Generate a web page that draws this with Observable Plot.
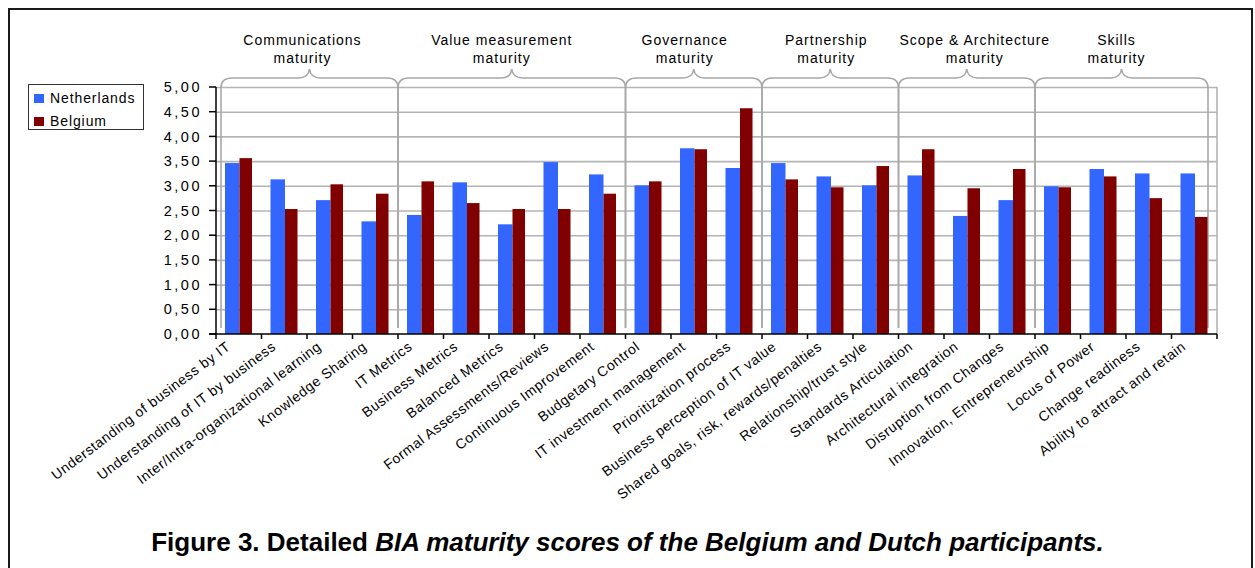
<!DOCTYPE html>
<html>
<head>
<meta charset="utf-8">
<script src="https://cdn.jsdelivr.net/npm/d3@7"></script>
<script src="https://cdn.jsdelivr.net/npm/@observablehq/plot@0.6"></script>
<style>
html, body { margin: 0; padding: 0; width: 1255px; height: 568px; overflow: hidden; background: #fff; }
body { position: relative; font-family: "Liberation Sans", Arial, sans-serif; }
#border { position: absolute; left: 8px; top: 8px; width: 1245px; height: 600px; border: 2px solid #1a1a1a; box-sizing: border-box; }
#chart { position: absolute; left: 0; top: 0; }
#legend { position: absolute; left: 28px; top: 84px; width: 116px; height: 46px; border: 1.5px solid #333; box-sizing: border-box; background: #fff; font-size: 14px; letter-spacing: 0.9px; color: #000; }
#legend .item { position: absolute; left: 5px; height: 16px; line-height: 16px; white-space: nowrap; }
#legend .sw { display: inline-block; width: 10px; height: 9px; margin-right: 6px; vertical-align: 0px; }
#caption { position: absolute; left: 0; top: 527px; width: 1255px; text-align: center; font-weight: bold; font-size: 26px; line-height: 30px; color: #000; white-space: nowrap; }
</style>
</head>
<body>
<div id="border"></div>
<div id="chart"></div>
<div id="legend"></div>
<div id="caption"></div>
<script>
// ---- data ----
const categories = [
  "Understanding of business by IT", "Understanding of IT by business",
  "Inter/Intra-organizational learning", "Knowledge Sharing",
  "IT Metrics", "Business Metrics", "Balanced Metrics",
  "Formal Assessments/Reviews", "Continuous Improvement",
  "Budgetary Control", "IT investment management", "Prioritization process",
  "Business perception of IT value", "Shared goals, risk, rewards/penalties",
  "Relationship/trust style",
  "Standards Articulation", "Architectural integration", "Disruption from Changes",
  "Innovation, Entrepreneurship", "Locus of Power", "Change readiness",
  "Ability to attract and retain"
];
const netherlands = [3.46, 3.13, 2.71, 2.28, 2.41, 3.07, 2.22, 3.48, 3.23, 3.01, 3.76, 3.36,
                     3.46, 3.19, 3.01, 3.21, 2.39, 2.71, 2.99, 3.34, 3.25, 3.25];
const belgium     = [3.56, 2.53, 3.03, 2.84, 3.09, 2.65, 2.53, 2.53, 2.84, 3.09, 3.74, 4.57,
                     3.13, 2.97, 3.40, 3.74, 2.95, 3.34, 2.97, 3.19, 2.75, 2.37];
const seriesNames = ["Netherlands", "Belgium"];
const groupLabels = [
  ["Communications", "maturity"], ["Value measurement", "maturity"],
  ["Governance", "maturity"], ["Partnership", "maturity"],
  ["Scope & Architecture", "maturity"], ["Skills", "maturity"]
];
const groupSizes = [4, 5, 3, 3, 3, 4];
const yTicks = [0, 0.5, 1, 1.5, 2, 2.5, 3, 3.5, 4, 4.5, 5];
const captionPlain = "Figure 3. Detailed ";
const captionItalic = "BIA maturity scores of the Belgium and Dutch participants.";

// ---- styling ----
const colors = {Netherlands: "#3366ff", Belgium: "#800000"};
const gridColor = "#b4b4b4";
const titleNudge = [-7, -10, -9, -4, 8, -5];

const rows = categories.map((c, i) => ({category: c, netherlands: netherlands[i], belgium: belgium[i]}));

const W = 1255, H = 500, PLOT_BOTTOM = 334, PLOT_RIGHT = 1217;

function bandInfo(scales, dims) {
  const x = scales.x;
  const L = dims.marginLeft, R = dims.width - dims.marginRight;
  const T = dims.marginTop, B = dims.height - dims.marginBottom;
  const bw = x.bandwidth ? x.bandwidth() : (R - L) / categories.length;
  return {x, bw, L, R, T, B};
}

function backgroundDecor(index, scales, values, dims) {
  const {x, bw, L, R, T, B} = bandInfo(scales, dims);
  const g = d3.create("svg:g").attr("fill", "none");
  g.append("line").attr("x1", R).attr("x2", R).attr("y1", T).attr("y2", B)
    .attr("stroke", gridColor).attr("stroke-width", 1.6);
  let start = 0;
  groupSizes.forEach((n, gi) => {
    let xa = x(categories[start]);
    let xb = x(categories[start + n - 1]) + bw;
    if (gi === 0) xa += 5;
    if (gi === groupSizes.length - 1) xb -= 9;
    start += n;
    const xm = (xa + xb) / 2;
    const yH = T - 9, yTip = T - 18;
    const p = d3.path();
    p.moveTo(xa, B - 6);
    p.lineTo(xa, T + 1);
    p.quadraticCurveTo(xa, yH, xa + 11, yH);
    p.lineTo(xm - 11, yH);
    p.quadraticCurveTo(xm - 1, yH, xm, yTip);
    p.quadraticCurveTo(xm + 1, yH, xm + 11, yH);
    p.lineTo(xb - 11, yH);
    p.quadraticCurveTo(xb, yH, xb, T + 1);
    p.lineTo(xb, B - 6);
    g.append("path").attr("d", p.toString()).attr("stroke", "#a8a8a8").attr("stroke-width", 1.6);
    const t = g.append("text").attr("fill", "#000").attr("stroke", "none")
      .attr("font-size", 14).attr("letter-spacing", 1).attr("text-anchor", "middle");
    t.append("tspan").attr("x", xm + titleNudge[gi]).attr("y", T - 42).text(groupLabels[gi][0]);
    t.append("tspan").attr("x", xm + titleNudge[gi]).attr("y", T - 24.5).text(groupLabels[gi][1]);
  });
  return g.node();
}

function axesDecor(index, scales, values, dims) {
  const {x, bw, L, R, T, B} = bandInfo(scales, dims);
  const y = scales.y;
  const g = d3.create("svg:g").attr("stroke", "#000").attr("stroke-width", 1.5).attr("fill", "none");
  g.append("line").attr("x1", L).attr("x2", L).attr("y1", T).attr("y2", B);
  g.append("line").attr("x1", L - 7).attr("x2", R).attr("y1", B).attr("y2", B);
  yTicks.forEach(v => g.append("line").attr("x1", L - 7).attr("x2", L).attr("y1", y(v)).attr("y2", y(v)));
  const bounds = categories.map(c => x(c)).concat([x(categories[categories.length - 1]) + bw]);
  bounds.forEach(b => g.append("line").attr("x1", b).attr("x2", b).attr("y1", B).attr("y2", B + 5));
  return g.node();
}

const chart = Plot.plot({
  width: W, height: H,
  marginTop: 87, marginBottom: H - PLOT_BOTTOM, marginLeft: 216, marginRight: W - PLOT_RIGHT,
  x: {type: "band", domain: categories, padding: 0, round: false, axis: null},
  y: {domain: [0, 5], axis: null},
  style: {fontFamily: "'Liberation Sans', Arial, sans-serif", background: "transparent", overflow: "visible", color: "#000"},
  marks: [
    Plot.ruleY(yTicks.filter(v => v > 0), {y: v => v, stroke: gridColor, strokeWidth: 1.6}),
    backgroundDecor,
    Plot.barY(rows, {x: "category", y: "netherlands", fill: colors.Netherlands, insetLeft: 9, insetRight: 22}),
    Plot.barY(rows, {x: "category", y: "belgium", fill: colors.Belgium, insetLeft: 23.5, insetRight: 9.5}),
    axesDecor,
    Plot.text(yTicks, {y: v => v, text: v => v.toFixed(2).replace(".", ","), frameAnchor: "left",
      dx: -14.5, textAnchor: "end", fontSize: 14.5, fill: "#000"}),
    Plot.text(categories, {x: c => c, text: c => c, frameAnchor: "bottom", dy: 14, dx: -8,
      rotate: -37, textAnchor: "end", fontSize: 14, fill: "#000"})
  ]
});
d3.select(chart).selectAll('g[font-size="14.5"]').attr("letter-spacing", 2.5);
d3.select(chart).selectAll('g[font-size="14"]').attr("letter-spacing", 0.6);
document.getElementById("chart").appendChild(chart);

// legend
const legend = d3.select("#legend");
seriesNames.forEach((name, i) => {
  const item = legend.append("div").attr("class", "item").style("top", (i === 0 ? 5 : 28) + "px");
  item.append("span").attr("class", "sw").style("background", colors[name]);
  item.append("span").text(name);
});

// caption
const cap = d3.select("#caption");
cap.append("span").text(captionPlain);
cap.append("span").style("font-style", "italic").text(captionItalic);
</script>
</body>
</html>
